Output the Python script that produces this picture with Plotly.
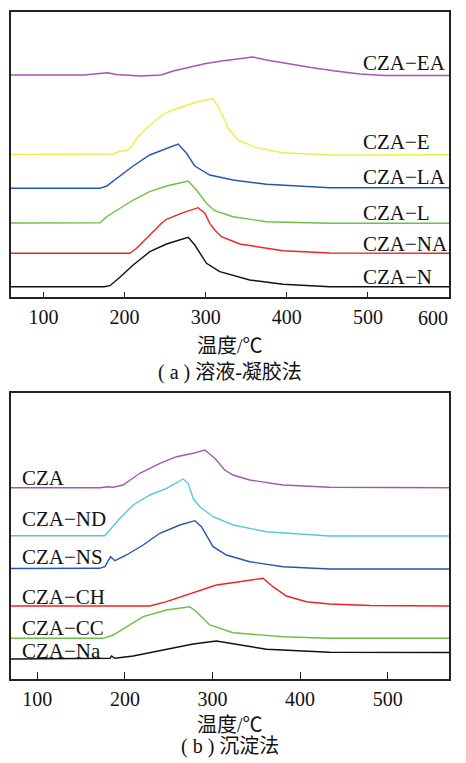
import plotly.graph_objects as go

# ---------------- data: panel (a) sol-gel ----------------
a_names = ["CZA−EA", "CZA−E", "CZA−LA", "CZA−L", "CZA−NA", "CZA−N"]
a_colors = ["#A656B4", "#EDED4A", "#2356B2", "#6CBF45", "#EE2424", "#111111"]
a_EA_t = [60, 150, 179, 190, 220, 245, 260, 280, 300, 320, 340, 358, 375, 400, 430, 460, 490, 520, 600]
a_EA_v = [222, 222, 224.3, 222.5, 221, 222, 226, 230, 233.5, 236, 238.5, 240, 237, 233.5, 229.5, 226, 223, 221.5, 221.5]
a_E_t = [60, 169.6, 186, 194.2, 202.5, 208.6, 214.8, 227, 243.5, 255.8, 276.4, 292.8, 309, 315.3, 323.5, 327.6, 340, 362.6, 395, 453, 600]
a_E_v = [142.5, 142.5, 143, 146, 146.3, 150.3, 158.7, 168.7, 180.3, 186, 192, 196, 198.3, 190.3, 177, 168.7, 157, 149.3, 144.3, 142, 142.3]
a_LA_t = [60, 169.6, 177.9, 190, 210.6, 231, 251.7, 266, 276.4, 286.6, 305, 333.8, 374.9, 453, 600]
a_LA_v = [108.7, 108.7, 111, 118.7, 131, 142, 148.7, 153, 143.7, 131, 122, 117, 112.7, 109.3, 109.3]
a_L_t = [60, 169.6, 177.9, 194, 210.6, 231, 251.7, 278.4, 288.7, 301, 311.2, 333.8, 374.9, 453, 600]
a_L_v = [74, 74.3, 80.3, 88.7, 97, 105.3, 111, 116, 107, 93.7, 86.3, 80.3, 75.3, 73.7, 73.7]
a_NA_t = [60, 206.5, 214.8, 231, 245.6, 251.7, 272.2, 290.7, 299, 305, 311.2, 319.5, 342, 395.3, 453, 600]
a_NA_v = [43.7, 43.7, 48.7, 62, 73.7, 77.7, 84.3, 89.3, 83.7, 73.7, 67, 60.3, 53, 46.3, 44, 43.7]
a_N_t = [60, 175, 182, 194.2, 210.6, 231.2, 251.7, 272.2, 278.4, 286.6, 301, 317.4, 354.3, 395.3, 453, 600]
a_N_v = [10.3, 10.3, 11.3, 19.7, 32, 45.3, 53, 58.7, 59.7, 52, 33.7, 25.3, 17, 12.7, 10.3, 10.3]
a_label_y = [234.3, 155.3, 120.3, 83.7, 53, 20.3]

# ---------------- data: panel (b) precipitation ----------------
b_names = ["CZA", "CZA−ND", "CZA−NS", "CZA−CH", "CZA−CC", "CZA−Na"]
b_colors = ["#A656B4", "#56C9D9", "#2356B2", "#EE2424", "#6CBF45", "#111111"]
b_CZA_t = [70, 171.5, 181, 186.6, 198, 217, 239.9, 259, 277.9, 291.2, 302.6, 314, 323.5, 342.5, 380.5, 433.7, 570]
b_CZA_v = [191.3, 191.3, 192.3, 191.7, 194, 205.7, 215.7, 222.3, 225.7, 229, 220.7, 209, 204, 199, 194, 191.7, 191.3]
b_ND_t = [70, 177, 182.9, 194.3, 209.5, 228.5, 247.5, 266.5, 272.2, 277.9, 285.5, 300.7, 323.5, 361.6, 433.7, 570]
b_ND_v = [143.3, 143.3, 149, 160.7, 174, 184, 190.7, 200, 195.7, 180.7, 172.3, 162.3, 154, 147.3, 143, 143]
b_NS_t = [70, 171, 177.2, 183.7, 188.6, 201.9, 220.9, 239.9, 262.7, 279.8, 287.4, 300.7, 316, 342.5, 380.5, 433.7, 570]
b_NS_v = [110.5, 110.7, 112.3, 122.3, 118.3, 124, 134, 145.7, 154, 158.3, 152.3, 132.3, 124, 117.3, 112.3, 110, 110]
b_CH_t = [70, 228.5, 247.5, 270.3, 304.5, 331, 357.7, 369, 384.4, 407.2, 433.7, 480, 570]
b_CH_v = [73, 73, 77.3, 84, 94, 97.3, 100.7, 92.3, 83, 77.3, 75, 73.5, 73]
b_CC_t = [70, 175, 186.6, 202, 220.9, 247.5, 274, 281.7, 296.9, 323.5, 380.5, 433.7, 570]
b_CC_v = [40.7, 40.7, 44, 52.3, 62.3, 69, 72.3, 67.3, 54, 46.3, 42.3, 40.7, 40.7]
b_Na_t = [70, 182.9, 184.8, 188.6, 209.5, 247.5, 277.9, 304.5, 331, 361.6, 433.7, 570]
b_Na_v = [20, 20.7, 23, 20.7, 23, 30, 35, 38, 34, 29.7, 26.7, 26.5]
b_label_y = [200.7, 159.7, 122.3, 81.7, 50.7, 28.3]

x_ticks_a = [100, 200, 300, 400, 500, 600]
x_ticks_b = [100, 200, 300, 400, 500]
x_title = "温度/℃"
cap_a = "( a ) 溶液-凝胶法"
cap_b = "( b ) 沉淀法"

# the page is laid out 451 px wide (the rest of the 466 px window is not drawable)
W, H = 451, 763
FONT = "Liberation Serif, Noto Sans CJK SC, serif"

fig = go.Figure()
a_series = [(a_EA_t, a_EA_v), (a_E_t, a_E_v), (a_LA_t, a_LA_v), (a_L_t, a_L_v), (a_NA_t, a_NA_v), (a_N_t, a_N_v)]
for (t, v), n, c in zip(a_series, a_names, a_colors):
    fig.add_trace(go.Scatter(x=t, y=v, mode="lines", name=n, line=dict(color=c, width=1.4),
                             xaxis="x", yaxis="y", showlegend=False))
b_series = [(b_CZA_t, b_CZA_v), (b_ND_t, b_ND_v), (b_NS_t, b_NS_v), (b_CH_t, b_CH_v), (b_CC_t, b_CC_v), (b_Na_t, b_Na_v)]
for (t, v), n, c in zip(b_series, b_names, b_colors):
    fig.add_trace(go.Scatter(x=t, y=v, mode="lines", name=n, line=dict(color=c, width=1.4),
                             xaxis="x2", yaxis="y2", showlegend=False))

def py(p):
    return 1 - p / H

annotations = []
for n, y in zip(a_names, a_label_y):
    annotations.append(dict(x=492, y=y, xref="x", yref="y", text=n, showarrow=False,
                            xanchor="left", yanchor="middle", font=dict(family=FONT, size=21, color="#111")))
for n, y in zip(b_names, b_label_y):
    annotations.append(dict(x=80.3, y=y, xref="x2", yref="y2", text=n, showarrow=False,
                            xanchor="left", yanchor="middle", font=dict(family=FONT, size=21, color="#111")))
for txt, yp in [(x_title, 346), (cap_a, 372), (x_title, 725), (cap_b, 746)]:
    annotations.append(dict(x=230 / W, y=py(yp), xref="paper", yref="paper", text=txt, showarrow=False,
                            xanchor="center", yanchor="middle", font=dict(family=FONT, size=20, color="#111")))
# last tick label of panel (a) sits at the right edge; keep it fully visible
annotations.append(dict(x=1, y=py(318), xref="paper", yref="paper", text=str(x_ticks_a[-1]), showarrow=False,
                        xanchor="right", yanchor="middle", xshift=-1,
                        font=dict(family=FONT, size=20, color="#111")))

axis_common = dict(showline=True, linecolor="#222", linewidth=1.5, mirror=True, showgrid=False,
                   zeroline=False)
fig.update_layout(
    width=W, height=H, autosize=False, margin=dict(l=0, r=0, t=0, b=0),
    paper_bgcolor="white", plot_bgcolor="white",
    xaxis=dict(domain=[11 / W, 449 / W], range=[60, 600], tickvals=x_ticks_a[:-1], ticks="inside",
               ticklen=5, tickwidth=1.3, tickcolor="#222", anchor="y",
               tickfont=dict(family=FONT, size=20, color="#111"), ticklabelstandoff=1, **axis_common),
    yaxis=dict(domain=[py(297), py(12)], range=[0, 285], showticklabels=False, ticks="", anchor="x",
               **axis_common),
    xaxis2=dict(domain=[11 / W, 449 / W], range=[70, 570], tickvals=x_ticks_b, ticks="inside",
                ticklen=7, tickwidth=1.3, tickcolor="#222", anchor="y2",
                tickfont=dict(family=FONT, size=20, color="#111"), ticklabelstandoff=1, **axis_common),
    yaxis2=dict(domain=[py(679), py(393)], range=[0, 286], showticklabels=False, ticks="", anchor="x2",
                **axis_common),
    annotations=annotations,
)
fig.write_html("out.html", config={"responsive": False})
